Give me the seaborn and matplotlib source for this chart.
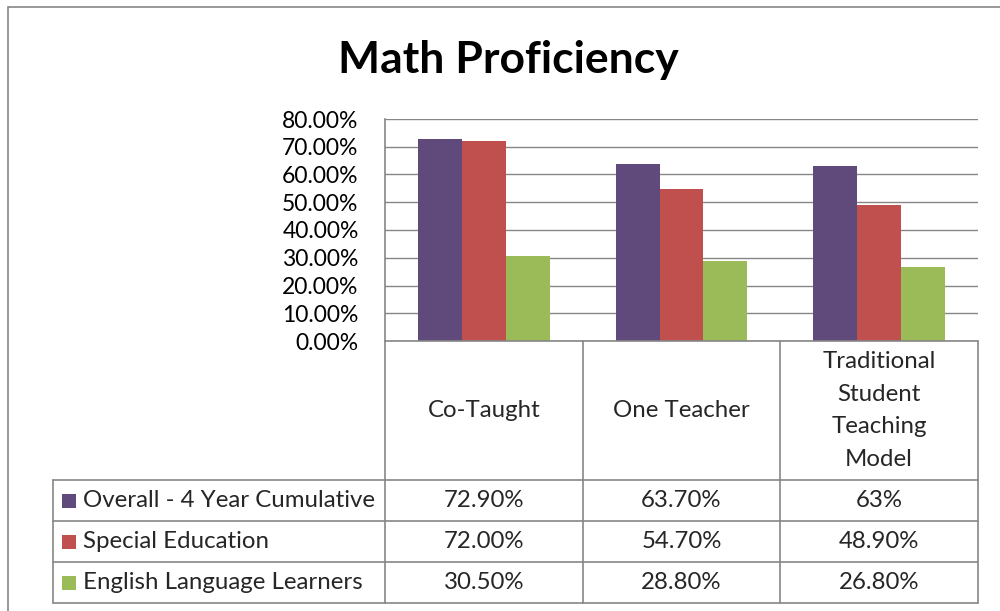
import pandas as pd
import matplotlib
matplotlib.use("Agg")
import matplotlib.pyplot as plt
from matplotlib.lines import Line2D
from matplotlib.patches import Rectangle
import seaborn as sns

# chart data
categories = ["Co-Taught", "One Teacher", "Traditional\nStudent\nTeaching\nModel"]
series = ["Overall - 4 Year Cumulative", "Special Education", "English Language Learners"]
overall = [72.9, 63.7, 63.0]
special_ed = [72.0, 54.7, 48.9]
ell = [30.5, 28.8, 26.8]
table_text = [["72.90%", "63.70%", "63%"],
              ["72.00%", "54.70%", "48.90%"],
              ["30.50%", "28.80%", "26.80%"]]
colors = ["#604A7B", "#C0504D", "#9BBB59"]
yticks = [0, 10, 20, 30, 40, 50, 60, 70, 80]

rows = []
for name, vals in zip(series, [overall, special_ed, ell]):
    for cat, v in zip(categories, vals):
        rows.append({"category": cat, "series": name, "value": v})
df = pd.DataFrame(rows)

sns.set_theme(style="white")
plt.rcParams["font.family"] = ["Lato", "DejaVu Sans"]

W, H = 1000, 611
fig = plt.figure(figsize=(W / 100, H / 100), dpi=100)
fig.patch.set_facecolor("white")

def fx(px):
    return px / W

def fy(py):
    return 1 - py / H

grid_col = "#868686"
fs = 17.3

# outer chart border (cropped on right/bottom)
fig.add_artist(Rectangle((fx(8), fy(700)), 1.2, fy(7) - fy(700), transform=fig.transFigure,
                         fill=False, edgecolor=grid_col, lw=1.2))

ax_l, ax_r, ax_t, ax_b = 385, 978, 119, 341
ax = fig.add_axes([fx(ax_l), fy(ax_b), fx(ax_r) - fx(ax_l), fy(ax_t) - fy(ax_b)])

sns.barplot(data=df, x="category", y="value", hue="series", palette=colors,
            width=0.667, gap=0, saturation=1, ax=ax, legend=False, edgecolor="none")

ax.set_xlim(-0.5, 2.5)
ax.set_ylim(0, 80)
ax.set_yticks(yticks)
ax.set_yticklabels([f"{t:.2f}%" for t in yticks], fontsize=16.5, color="black")
ax.tick_params(axis="y", length=0, pad=19)
ax.set_xticks([])
ax.set_xlabel("")
ax.set_ylabel("")
ax.yaxis.grid(True, color=grid_col, lw=1.0)
ax.set_axisbelow(True)
for s in ["top", "right", "bottom"]:
    ax.spines[s].set_visible(False)
ax.spines["left"].set_color(grid_col)
ax.spines["left"].set_linewidth(1.2)

fig.text(fx(508), fy(60), "Math Proficiency", ha="center", va="center",
         fontsize=32, fontweight="bold", color="black")

# data table below the axes
trans = ax.get_xaxis_transform()
def ya(py):
    return (ax_b - py) / (ax_b - ax_t)

row_lines = [480, 521, 562, 603]
left_px = 53
left_data = -0.5 - (ax_l - left_px) * 3 / (ax_r - ax_l)
bounds = [-0.5, 0.5, 1.5, 2.5]
lw = 1.2

# horizontal lines
ax.add_line(Line2D([-0.5, 2.5], [0, 0], transform=trans, color=grid_col, lw=lw, clip_on=False))
for py in row_lines:
    ax.add_line(Line2D([left_data, 2.5], [ya(py), ya(py)], transform=trans,
                       color=grid_col, lw=lw, clip_on=False))
# vertical lines
for b in bounds:
    ax.add_line(Line2D([b, b], [0, ya(row_lines[-1])], transform=trans,
                       color=grid_col, lw=lw, clip_on=False))
ax.add_line(Line2D([left_data, left_data], [ya(row_lines[0]), ya(row_lines[-1])],
                   transform=trans, color=grid_col, lw=lw, clip_on=False))

# category header labels
for i, cat in enumerate(categories):
    ax.text(i, ya((ax_b + row_lines[0]) / 2), cat, transform=trans, ha="center", va="center",
            fontsize=fs, linespacing=1.68, clip_on=False)

# series rows
key_w = 14 * 3 / (ax_r - ax_l)
for r, (name, col) in enumerate(zip(series, colors)):
    top, bot = row_lines[r], row_lines[r + 1]
    cy = (top + bot) / 2
    kx = -0.5 - (ax_l - 62) * 3 / (ax_r - ax_l)
    ax.add_patch(Rectangle((kx, ya(cy + 7)), key_w, ya(cy - 7) - ya(cy + 7), transform=trans,
                           facecolor=col, edgecolor="none", clip_on=False))
    tx = -0.5 - (ax_l - 83) * 3 / (ax_r - ax_l)
    ax.text(tx, ya(cy), name, transform=trans, ha="left", va="center",
            fontsize=fs, clip_on=False)
    for i, val in enumerate(table_text[r]):
        ax.text(i, ya(cy), val, transform=trans, ha="center", va="center",
                fontsize=fs, clip_on=False)

fig.savefig("out.png", dpi=100, facecolor="white")
